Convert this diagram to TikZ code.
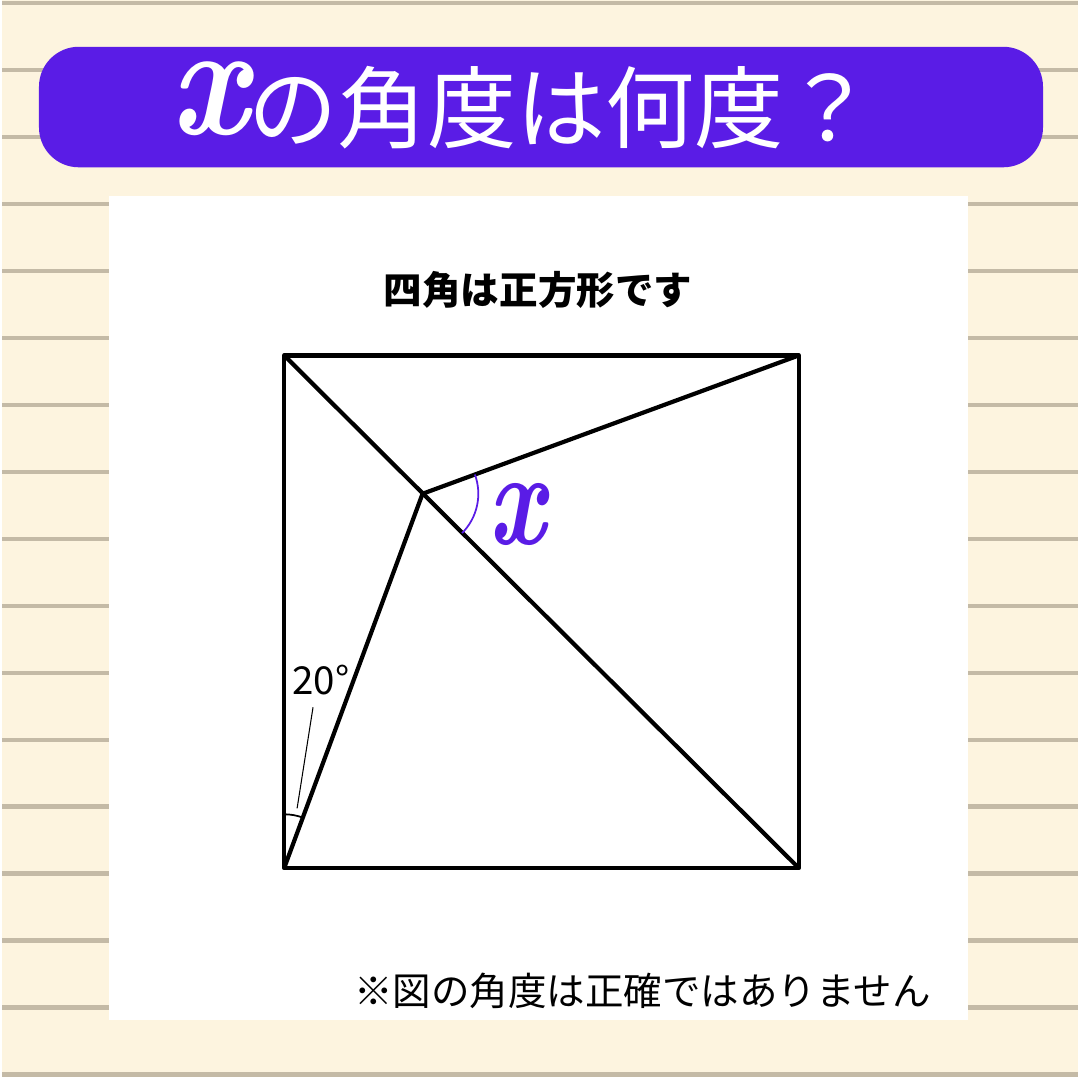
\documentclass[tikz,border=0pt]{standalone}
\usepackage{fontspec}
\newfontfamily\jpfont{Noto Sans CJK JP}
\usetikzlibrary{angles}
\definecolor{paper}{HTML}{FDF4DF}
\definecolor{rulegray}{HTML}{C4BAA6}
\definecolor{quizviolet}{HTML}{5A1CE6}
\newcommand{\varx}[2]{\scalebox{#2}[1]{\rmfamily\bfseries\itshape\fontsize{#1}{#1}\selectfont x}}

\begin{document}
\begin{tikzpicture}[x=0.01cm, y=-0.01cm, font=\jpfont,
    rule/.style={line width=1.4pt, rulegray},
    edge/.style={line width=1.2pt, line join=round},
    banner/.style={rectangle, fill=quizviolet, rounded corners=0.4cm, minimum width=10.08cm, minimum height=1.21cm, inner sep=0pt}]
  % Ruled paper background
  \fill[paper] (0,0) rectangle (1080,1080);
  \foreach \k in {0,...,16} {
    \draw[rule] (0,{3+67.3*\k}) -- (1080,{3+67.3*\k}); % ruled line
  }

  % Title banner
  \node[banner] (banner) at (541,107.5) {};
  \node[white, font=\jpfont\fontsize{25.5}{30}\selectfont] (title) at (522,106) {\raisebox{2pt}{\varx{46}{0.86}}の角度は何度？};

  % White card with the question
  \fill[white] (107,197) rectangle (970,1025);
  \node[font=\jpfont\bfseries\fontsize{11}{13}\selectfont] (hint) at (538,291) {四角は正方形です};
  \node[font=\jpfont\fontsize{11}{13}\selectfont] (note) at (643,995) {※図の角度は正確ではありません};

  % Square and its segments
  \coordinate (A) at (283,357); % top left
  \coordinate (C) at (800,357); % top right
  \coordinate (D) at (800,872); % bottom right
  \coordinate (B) at (283,872); % bottom left
  \coordinate (P) at (422,496); % point on the diagonal
  \draw[edge] (A) -- (C) -- (D) -- (B) -- cycle;
  \draw[edge] (A) -- (D); % diagonal
  \draw[edge] (C) -- (P) -- (B);

  % Angle marks
  \pic[draw=quizviolet, line width=0.5pt, angle radius=0.56cm] {angle = D--P--C};
  \pic[draw, line width=0.5pt, angle radius=0.54cm] {angle = P--B--A};
  \node[quizviolet] (xlabel) at (517,517) {\varx{38.6}{0.75}};
  \node[font=\jpfont\fontsize{11}{13}\selectfont] (deg) at (320,683) {20°};
  \coordinate (tip) at (296,812); % end of the leader
  \draw[line width=0.3pt] ([xshift=-0.08cm]deg.south) -- (tip);
\end{tikzpicture}
\end{document}
